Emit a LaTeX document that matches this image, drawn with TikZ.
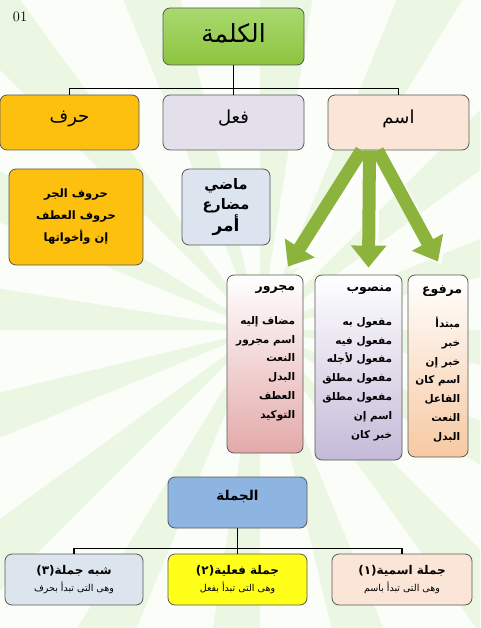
\documentclass[tikz,border=0pt]{standalone}
\usepackage{fontspec}
\newfontfamily\arabicfont[Script=Arabic]{DejaVu Sans}
\TeXXeTstate=1
\usetikzlibrary{arrows.meta,calc}
\newcommand{\ar}[1]{\beginR#1\endR}
\definecolor{bgwhite}{HTML}{FBFDF8}
\definecolor{raygreen}{HTML}{EBF6E3}
\definecolor{kalimatop}{HTML}{A9D970}
\definecolor{kalimabot}{HTML}{8CC43E}
\definecolor{harforange}{HTML}{FDC00F}
\definecolor{fiilgray}{HTML}{E3E0EC}
\definecolor{ismpeach}{HTML}{FBE5D6}
\definecolor{madiblue}{HTML}{DCE5EF}
\definecolor{jumlablue}{HTML}{8EB4E2}
\definecolor{shibhblue}{HTML}{DCE4EE}
\definecolor{fiilyellow}{HTML}{FFFF1A}
\definecolor{majrurpink}{HTML}{E4A9A9}
\definecolor{mansublav}{HTML}{C4BAD9}
\definecolor{marfupeach}{HTML}{F7C9A2}
\definecolor{arrowgreen}{HTML}{8CB43C}
\tikzset{
  box/.style={draw=black!65, line width=0.8pt, rounded corners=7pt, inner sep=0pt, align=center},
  tree/.style={line width=1.4pt, black},
  grarrow/.style={line width=13pt, arrowgreen, -{Triangle[width=34pt,length=22pt]}},
  grshadow/.style={line width=13pt, white, -{Triangle[width=34pt,length=22pt]}},
  listtext/.style={inner sep=0pt, align=right, font=\arabicfont\bfseries\fontsize{10.5}{18.8}\selectfont},
  titletext/.style={inner sep=0pt, font=\arabicfont\bfseries\fontsize{12.5}{14}\selectfont}
}
\begin{document}
\begin{tikzpicture}[x=1pt,y=-1pt]
\useasboundingbox (0,0) rectangle (480,628);
% background rays
\begin{scope}
\clip (0,0) rectangle (480,628);
\fill[bgwhite] (0,0) rectangle (480,628);
\coordinate (c) at (260,330);
\foreach \a in {0,22.5,...,337.5}
  \fill[raygreen] (c) -- ($(c)+(\a:900)$) -- ($(c)+(\a+9:900)$) -- cycle;
\end{scope}
\node[font=\Large] (num) at (20,17) {01};
% top tree
\node[box, shading=axis, top color=kalimatop, bottom color=kalimabot, minimum width=141pt, minimum height=57pt, text depth=6pt,
  font=\arabicfont\fontsize{25}{28}\selectfont] (kalima) at (233.5,36.5) {\ar{الكلمة}};
\node[box, fill=harforange, minimum width=139pt, minimum height=55pt, text depth=12pt,
  font=\arabicfont\fontsize{18}{20}\selectfont] (harf) at (69.5,122.5) {\ar{حرف}};
\node[box, fill=fiilgray, minimum width=141pt, minimum height=55pt, text depth=12pt,
  font=\arabicfont\fontsize{18}{20}\selectfont] (fiil) at (233.5,122.5) {\ar{فعل}};
\node[box, fill=ismpeach, minimum width=141pt, minimum height=55pt, text depth=12pt,
  font=\arabicfont\fontsize{18}{20}\selectfont] (ism) at (398.5,122.5) {\ar{اسم}};
\draw[tree] (kalima.south) -- ++(0,23) coordinate (kbar);
\draw[tree] (harf.north) |- (kbar) -| (ism.north);
\draw[tree] (kbar) -- (fiil.north);
% harf and fiil lists
\node[box, fill=harforange, minimum width=134pt, minimum height=96pt,
  font=\arabicfont\bfseries\fontsize{11.5}{22}\selectfont] (huruf) at (76,217)
  {\ar{حروف الجر}\\\ar{حروف العطف}\\\ar{إن وأخواتها}};
\node[box, fill=madiblue, minimum width=88pt, minimum height=76pt,
  font=\arabicfont\bfseries\fontsize{14.5}{20}\selectfont] (madi) at (226,207)
  {\ar{ماضي}\\\ar{مضارع}\\{\fontsize{17}{20}\selectfont\ar{أمر}}};
% ism boxes
\node[box, shading=axis, top color=white, bottom color=majrurpink, minimum width=76pt, minimum height=178pt] (majrur) at (265,364) {};
\node[box, shading=axis, top color=white, bottom color=mansublav, minimum width=87pt, minimum height=185pt] (mansub) at (358.5,367.5) {};
\node[box, shading=axis, top color=white, bottom color=marfupeach, minimum width=60pt, minimum height=182pt] (marfu) at (438,366) {};
\node[titletext, anchor=north east] (majrurt) at ($(majrur.north east)+(-8,11)$) {\ar{مجرور}};
\node[titletext, anchor=north east] (mansubt) at ($(mansub.north east)+(-10,11)$) {\ar{منصوب}};
\node[titletext, anchor=north east] (marfut) at ($(marfu.north east)+(-6,11)$) {\ar{مرفوع}};
\node[listtext, anchor=north east] (majrurl) at ($(majrurt.south east)+(0,22)$)
  {\ar{مضاف إليه}\\\ar{اسم مجرور}\\\ar{النعت}\\\ar{البدل}\\\ar{العطف}\\\ar{التوكيد}};
\node[listtext, anchor=north east] (mansubl) at ($(mansubt.south east)+(0,22)$)
  {\ar{مفعول به}\\\ar{مفعول فيه}\\\ar{مفعول لأجله}\\\ar{مفعول مطلق}\\\ar{مفعول مطلق}\\\ar{اسم إن}\\\ar{خبر كان}};
\node[listtext, anchor=north east] (marful) at ($(marfut.south east)+(-2,20)$)
  {\ar{مبتدأ}\\\ar{خبر}\\\ar{خبر إن}\\\ar{اسم كان}\\\ar{الفاعل}\\\ar{النعت}\\\ar{البدل}};
% green arrows
\draw[grshadow] ($(ism.south)+(-33,4)$) -- ($(majrur.north)+(26,-5)$);
\draw[grshadow] ($(ism.south)+(-25,4)$) -- ($(mansub.north)+(13,-5)$);
\draw[grshadow] ($(ism.south)+(-17,4)$) -- ($(marfu.north)+(3,-10)$);
\draw[grarrow] ($(ism.south)+(-37,0)$) -- ($(majrur.north)+(23,-8)$);
\draw[grarrow] ($(ism.south)+(-29,0)$) -- ($(mansub.north)+(10,-7)$);
\draw[grarrow] ($(ism.south)+(-21,0)$) -- ($(marfu.north)+(0,-13)$);
% jumla tree
\node[box, fill=jumlablue, minimum width=139pt, minimum height=51pt, text depth=14pt,
  font=\arabicfont\bfseries\fontsize{13.5}{15}\selectfont] (jumla) at (237.5,502.5) {\ar{الجملة}};
\node[box, fill=shibhblue, minimum width=138pt, minimum height=51pt,
  font=\arabicfont\fontsize{9.5}{17}\selectfont] (shibh) at (74,579.5)
  {{\bfseries\fontsize{12}{17}\selectfont\hbox{(٣)}\hbox{\ar{شبه جملة}}}\\\ar{وهى التى تبدأ بحرف}};
\node[box, fill=fiilyellow, minimum width=139pt, minimum height=51pt,
  font=\arabicfont\fontsize{9.5}{17}\selectfont] (fiiliya) at (237.5,579.5)
  {{\bfseries\fontsize{12}{17}\selectfont\hbox{(٢)}\hbox{\ar{جملة فعلية}}}\\\ar{وهى التى تبدأ بفعل}};
\node[box, fill=ismpeach, minimum width=140pt, minimum height=51pt,
  font=\arabicfont\fontsize{9.5}{17}\selectfont] (ismiya) at (402,579.5)
  {{\bfseries\fontsize{12}{17}\selectfont\hbox{(١)}\hbox{\ar{جملة اسمية}}}\\\ar{وهى التى تبدأ باسم}};
\draw[tree] (jumla.south) -- ++(0,20) coordinate (jbar);
\draw[tree] (shibh.north) |- (jbar) -| (ismiya.north);
\draw[tree] (jbar) -- (fiiliya.north);
\end{tikzpicture}
\end{document}
